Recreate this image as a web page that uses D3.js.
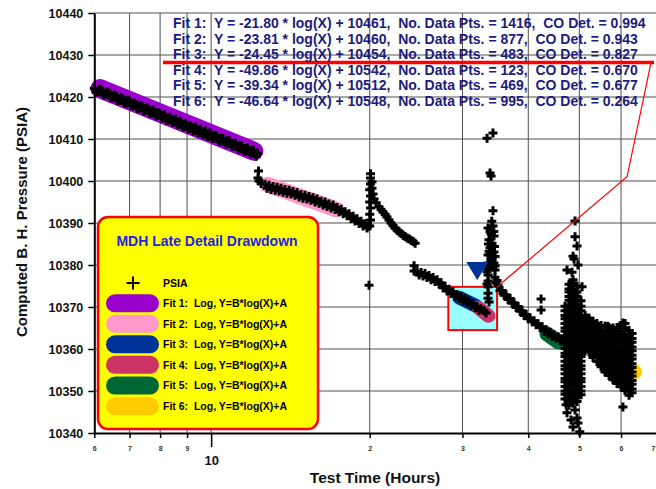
<!DOCTYPE html>
<html><head><meta charset="utf-8">
<script src="https://cdn.jsdelivr.net/npm/d3@7"></script>
<style>
html,body{margin:0;padding:0;background:#fff;}
svg{display:block;font-family:"Liberation Sans",Arial,Helvetica,sans-serif;font-weight:bold;}
</style></head><body>
<svg id="chart" width="656" height="489"></svg>
<script>
// ---------------- data ----------------
const yTicks = [10340,10350,10360,10370,10380,10390,10400,10410,10420,10430,10440];
const yGridValues = [10350,10360,10370,10380,10390,10400,10410,10420,10430,10440];
const xTicks = [6,7,8,9,10,20,30,40,50,60,70];
const xTickLabels = ["6","7","8","9","10","2","3","4","5","6","7"];
const xGridValues = [7,8,9,10,20,30,40,50,60];

const fitNames = ["Fit 1","Fit 2","Fit 3","Fit 4","Fit 5","Fit 6"];
const fitB = [-21.80,-23.81,-24.45,-49.86,-39.34,-46.64];
const fitA = [10461,10460,10454,10542,10512,10548];
const fitPts = [1416,877,483,123,469,995];
const fitCoDet = [0.994,0.943,0.827,0.670,0.677,0.264];
const fitStartT = [6.15,12.8,29.6,32.2,43.4,52.0];
const fitStartP = [10422.0,10399.1,10372.2,10369.8,10363.6,10364.0];
const fitEndT = [12.05,17.3,31.8,33.6,45.6,63.8];
const fitEndP = [10407.1,10393.2,10370.3,10367.9,10361.7,10354.5];
const fitColors = ["#9900cc","#ff99cc","#003399","#cc3366","#006633","#ffcc00"];
const fitWidths = [19,16,14,14,15,14];

const legendTitle = "MDH Late Detail Drawdown";
const seriesName = "PSIA";

// callout annotation (data coordinates)
const calloutBarT = [8.1,69.3];
const calloutBarP = 10428.2;
const calloutPathT = [68.4,61.6,34.9];
const calloutPathP = [10428.2,10401.0,10374.8];
const boxT = [28.2,34.9];
const boxP = [10364.5,10374.8];
const markerT = 32.0;
const markerP = [10380.7,10376.4];

// measured PSIA points [time (hr), pressure (psia)]
const segA = [[6.0,10422.0],[6.1,10421.4],[6.2,10421.5],[6.3,10420.7],[6.4,10420.9],[6.5,10420.0],[6.6,10420.1],[6.7,10419.3],[6.8,10419.5],[6.9,10418.6],[7.0,10418.9],[7.1,10418.0],[7.2,10418.2],[7.3,10417.4],[7.4,10417.6],[7.5,10416.8],[7.6,10417.1],[7.7,10416.3],[7.8,10416.5],[7.9,10415.7],[8.0,10415.9],[8.1,10415.6],[8.2,10415.0],[8.3,10415.1],[8.4,10414.5],[8.5,10414.6],[8.6,10414.0],[8.7,10414.1],[8.8,10413.4],[8.9,10413.6],[9.0,10413.0],[9.1,10413.1],[9.2,10412.5],[9.3,10412.6],[9.4,10412.0],[9.5,10412.2],[9.6,10411.5],[9.7,10411.7],[9.8,10411.1],[9.9,10411.2],[10.0,10410.6],[10.15,10410.7],[10.3,10410.0],[10.45,10410.1],[10.6,10409.4],[10.75,10409.5],[10.9,10408.8],[11.05,10408.9],[11.2,10408.2],[11.35,10408.3],[11.5,10407.6],[11.65,10407.7],[11.8,10407.0],[11.95,10407.1],[12.1,10406.5],[12.25,10406.6]];
const segA2 = [[6.05,10421.2],[6.15,10421.9],[6.25,10420.5],[6.35,10421.2],[6.45,10419.8],[6.55,10420.5],[6.65,10419.1],[6.75,10419.9],[6.85,10418.5],[6.95,10419.2],[7.05,10417.9],[7.15,10418.6],[7.25,10417.2],[7.35,10418.0],[7.45,10416.7],[7.55,10417.4],[7.65,10416.1],[7.75,10416.9],[7.85,10415.5],[7.95,10416.3],[8.05,10415.0],[8.15,10415.8],[8.25,10414.4],[8.35,10415.2],[8.45,10413.9],[8.55,10414.7],[8.65,10413.4],[8.75,10414.2],[8.85,10412.9],[8.95,10413.7],[9.05,10412.4],[9.15,10413.2],[9.25,10411.9],[9.35,10412.8],[9.45,10411.5],[9.55,10412.3],[9.65,10411.0],[9.75,10411.9],[9.85,10410.6],[9.95,10411.4],[10.075,10410.1],[10.225,10410.9],[10.375,10409.4],[10.525,10410.2],[10.675,10408.8],[10.825,10409.6],[10.975,10408.2],[11.125,10409.0],[11.275,10407.6],[11.425,10408.4],[11.575,10407.0],[11.725,10407.9],[11.875,10406.5],[12.025,10407.3],[12.175,10405.9]];
const segB1 = [[12.3,10402.4],[12.27,10400.7],[12.33,10400.0],[12.44,10399.4],[12.66,10399.2],[12.88,10399.0],[13.11,10398.7],[13.34,10398.5],[13.57,10398.3],[13.81,10398.0],[14.06,10397.8],[14.30,10397.5],[14.56,10397.2],[14.81,10396.8],[15.07,10396.6],[15.34,10396.3],[15.61,10396.0],[15.89,10395.7],[16.17,10395.2],[16.45,10395.0],[16.74,10394.5],[17.04,10394.3],[17.34,10393.7],[17.65,10393.3],[17.96,10392.7],[18.27,10392.2],[18.60,10391.6],[18.92,10391.0],[19.26,10390.4],[19.60,10389.8],[19.86,10389.3]];
const segB2 = [[12.77,10398.3],[12.99,10398.0],[13.23,10397.8],[13.46,10397.6],[13.69,10397.3],[13.93,10397.1],[14.18,10396.9],[14.43,10396.6],[14.69,10396.2],[14.94,10395.9],[15.20,10395.7],[15.47,10395.4],[15.75,10395.0],[16.03,10394.7],[16.31,10394.3],[16.59,10393.9],[16.89,10393.6],[17.19,10393.2],[17.49,10392.7],[17.81,10392.2],[18.12,10391.7],[18.43,10391.1],[18.76,10390.5],[19.09,10389.9],[19.43,10389.3],[19.77,10388.8]];
const spike1 = [[20.0,10389.3],[20.07,10390.7],[20.0,10392.1],[20.07,10393.6],[20.0,10395.0],[20.07,10396.4],[20.0,10397.9],[20.07,10399.3],[20.07,10400.7],[20.07,10401.7],[20.2,10399.8],[20.2,10398.3],[20.29,10396.9],[20.38,10395.7],[20.56,10394.8],[20.83,10393.8],[19.94,10375.2]];
const decay1 = [[21.02,10393.2],[21.2,10392.6],[21.4,10392.0],[21.57,10391.4],[21.76,10390.7],[21.95,10390.0],[22.14,10389.4],[22.34,10388.8],[22.54,10388.3],[22.74,10387.9],[22.94,10387.5],[23.14,10387.1],[23.35,10386.8],[23.55,10386.4],[23.76,10386.2],[23.97,10385.9],[24.18,10385.6],[24.39,10385.2]];
const segC1 = [[24.28,10379.8],[24.28,10378.6],[24.6,10378.4],[25.03,10378.2],[25.47,10378.0],[25.92,10377.5],[26.38,10377.0],[26.85,10376.5],[27.32,10375.8],[27.8,10374.9],[28.29,10374.2],[28.78,10373.7],[29.29,10373.0],[29.81,10372.5],[30.33,10372.0],[30.87,10371.5],[31.41,10370.8],[31.97,10370.1],[32.53,10369.6],[32.96,10369.1],[33.26,10368.6]];
const segC2 = [[24.82,10377.6],[25.25,10377.4],[25.69,10377.0],[26.15,10376.5],[26.61,10376.1],[27.09,10375.5],[27.56,10374.6],[28.04,10373.8],[28.54,10373.2],[29.03,10372.6],[29.55,10372.0],[30.07,10371.5],[30.60,10371.1],[31.14,10370.5],[31.69,10369.8],[32.25,10369.2]];
const spike2 = [[33.4,10410.2],[34.28,10411.4],[33.84,10401.9],[33.99,10401.2],[34.28,10392.9],[33.55,10388.8],[34.28,10389.3],[33.84,10387.9],[34.43,10386.9],[33.69,10386.0],[34.13,10385.2],[33.84,10384.1],[34.43,10383.1],[33.55,10382.4],[33.99,10381.4],[33.55,10380.5],[34.43,10380.5],[33.55,10379.1],[34.58,10378.8],[33.55,10377.6],[34.58,10377.1],[33.55,10376.2],[34.73,10375.7],[33.55,10374.8],[33.55,10373.3],[33.55,10372.1],[34.0,10387.4],[34.1,10384.6],[33.7,10383.3],[34.2,10381.9],[33.4,10378.4],[33.4,10375.5],[33.7,10371.2],[34.9,10376.3],[33.9,10388.3],[34.4,10388.0],[33.6,10385.0],[34.5,10384.4],[33.9,10382.8],[34.6,10382.0],[33.7,10379.8],[34.3,10379.5],[34.6,10379.8],[34.1,10390.4]];
const segD1 = [[35.05,10375.1],[35.67,10373.9],[36.30,10372.9],[36.94,10372.0],[37.59,10371.0],[38.26,10370.1],[38.93,10369.1],[39.62,10368.2],[40.32,10367.4],[41.03,10366.7],[41.75,10366.0],[42.49,10365.3],[43.24,10364.6],[44.0,10363.9],[44.78,10363.4],[45.57,10362.9],[46.37,10362.4],[42.3,10371.9],[42.3,10369.3]];
const segD2 = [[35.36,10373.9],[35.99,10372.8],[36.62,10371.8],[37.27,10370.9],[37.93,10369.9],[38.60,10369.0],[39.28,10368.0],[39.97,10367.2],[40.68,10366.5],[41.39,10365.8],[42.12,10365.1],[42.86,10364.3],[43.62,10363.6],[44.39,10363.0],[45.17,10362.6],[45.97,10362.1]];
// late-time scatter, listed column by column: [time, [pressures...]]
const cloudCols = [
 [46.97,[10370.2,10369.1,10368.0,10367.2,10366.1,10365.0,10364.2,10363.1,10362.0,10361.2,10360.1,10359.0,10358.2,10357.1,10356.0,10355.2,10354.1,10353.0,10352.2,10351.1,10350.0,10349.2,10348.1]],
 [47.80,[10375.4,10374.3,10373.6,10372.5,10371.6,10370.5,10369.6,10368.5,10367.6,10366.5,10365.6,10364.5,10363.6,10362.5,10361.6,10360.5,10359.6,10358.5,10357.6,10356.5,10355.6,10354.5,10353.6,10352.5,10351.6,10350.5,10349.6,10348.5,10347.6,10346.6]],
 [48.64,[10376.5,10375.2,10374.1,10373.0,10372.2,10371.1,10370.0,10369.2,10368.1,10367.0,10366.2,10365.1,10364.0,10363.2,10362.1,10361.0,10360.2,10359.1,10358.0,10357.2,10356.1,10355.0,10354.2,10353.1,10352.0,10351.2,10350.1,10349.0,10348.2,10347.1]],
 [49.50,[10375.0,10373.6,10372.5,10371.6,10370.5,10369.6,10368.5,10367.6,10366.5,10365.6,10364.5,10363.6,10362.5,10361.6,10360.5,10359.6,10358.5,10357.6,10356.5,10355.6,10354.5,10353.6,10352.5,10351.6,10350.5,10349.6,10348.5,10347.5]],
 [50.37,[10371.5,10370.2,10369.1,10368.0,10367.2,10366.1,10365.0,10364.2,10363.1,10362.0,10361.2,10360.1,10359.0,10358.2,10357.1,10356.0,10355.2,10354.1,10353.0,10352.2,10351.1,10350.0,10349.1]],
 [51.26,[10368.0,10366.6,10365.5,10364.6,10363.5,10362.6,10361.5,10360.6,10359.5]],
 [52.17,[10367.3,10366.1,10365.0,10364.2,10363.1,10362.0,10361.2,10360.1,10359.3]],
 [53.09,[10366.6,10365.5,10364.6,10363.5,10362.6,10361.5,10360.6,10359.5,10358.6,10358.0]],
 [54.02,[10366.1,10365.1,10364.0,10363.2,10362.1,10361.0,10360.2,10359.1,10358.0,10357.0]],
 [54.98,[10365.6,10364.5,10363.6,10362.5,10361.6,10360.5,10359.6,10358.5,10357.6,10356.5,10355.8]],
 [55.95,[10365.4,10364.1,10363.0,10362.2,10361.1,10360.0,10359.2,10358.1,10357.0,10356.2,10355.1,10354.5]],
 [56.94,[10365.1,10364.5,10363.6,10362.5,10361.6,10360.5,10359.6,10358.5,10357.6,10356.5,10355.6,10354.5,10353.7]],
 [57.94,[10365.0,10364.0,10363.2,10362.1,10361.0,10360.2,10359.1,10358.0,10357.2,10356.1,10355.0,10354.2,10353.1,10352.7]],
 [58.96,[10365.1,10364.5,10363.6,10362.5,10361.6,10360.5,10359.6,10358.5,10357.6,10356.5,10355.6,10354.5,10353.6,10352.5,10351.8]],
 [60.00,[10365.6,10364.2,10363.1,10362.0,10361.2,10360.1,10359.0,10358.2,10357.1,10356.0,10355.2,10354.1,10353.0,10352.2,10351.0]],
 [61.06,[10366.1,10365.0,10363.6,10362.5,10361.6,10360.5,10359.6,10358.5,10357.6,10356.5,10355.6,10354.5,10353.6,10352.5,10351.6,10350.5,10350.1]],
 [62.14,[10364.4,10363.1,10362.0,10361.2,10360.1,10359.0,10358.2,10357.1,10356.0,10355.2,10354.1,10353.0,10352.2,10351.1,10350.0,10349.0]],
 [62.96,[10363.7,10362.5,10361.6,10360.5,10359.6,10358.5,10357.6,10356.5,10355.6,10354.5,10353.6,10352.5,10351.6,10350.5,10349.6]]
];
const cloudSparse = [[49.07,10390.5],[49.07,10386.7],[49.5,10384.5],[48.64,10382.1],[48.86,10381.4],[49.7,10380.0],[47.38,10378.8],[48.43,10378.3],[50.6,10374.8],[48.43,10375.7],[56.6,10365.4],[60.5,10366.2],[51.7,10367.4],[51.9,10366.4],[60.5,10346.2],[47.38,10344.8],[49.07,10345.5],[49.5,10343.6],[48.64,10341.4],[50.1,10340.3],[49.7,10342.4],[48.22,10343.1],[47.2,10346.7]];

// ---------------- chart ----------------
const svg = d3.select("#chart");
const x = d3.scaleLog().domain([6,70]).range([94.3,656.3]);
const y = d3.scaleLinear().domain([10340,10440]).range([433,13]);

const points = [].concat(segA,segA2,segB1,segB2,spike1,decay1,segC1,segC2,spike2,segD1,segD2,
  cloudCols.flatMap(c => c[1].map(p => [c[0],p])), cloudSparse);

// grid
const grid = svg.append("g");
grid.selectAll("line.gy").data(yGridValues).join("line").attr("class","gy")
  .attr("x1",x(6)).attr("x2",x(70)).attr("y1",d=>y(d)).attr("y2",d=>y(d))
  .attr("stroke","#505050").attr("stroke-width",1);
grid.selectAll("line.gx").data(xGridValues).join("line").attr("class","gx")
  .attr("x1",d=>x(d)).attr("x2",d=>x(d)).attr("y1",y(10440)).attr("y2",y(10340))
  .attr("stroke","#505050").attr("stroke-width",1);

// cyan highlight box
svg.append("rect")
  .attr("x",x(boxT[0])).attr("y",y(boxP[1]))
  .attr("width",x(boxT[1])-x(boxT[0])).attr("height",y(boxP[0])-y(boxP[1]))
  .attr("fill","#99ffff").attr("stroke","#ff0000").attr("stroke-width",2);

// fit lines
svg.append("g").selectAll("line").data(fitNames).join("line")
  .attr("x1",(d,i)=>x(fitStartT[i])).attr("y1",(d,i)=>y(fitStartP[i]))
  .attr("x2",(d,i)=>x(fitEndT[i])).attr("y2",(d,i)=>y(fitEndP[i]))
  .attr("stroke",(d,i)=>fitColors[i]).attr("stroke-width",(d,i)=>fitWidths[i])
  .attr("stroke-linecap","round");

// data points
const plus = "M-4.5,0H4.5M0,-4.5V4.5";
svg.append("g").selectAll("path").data(points).join("path")
  .attr("d",plus).attr("transform",d=>`translate(${x(d[0])},${y(d[1])})`)
  .attr("stroke","#000").attr("stroke-width",3).attr("fill","none");

// axes
const yAxis = d3.axisLeft(y).tickValues(yTicks).tickSize(6).tickSizeOuter(0).tickPadding(5).tickFormat(d=>String(d));
const gy = svg.append("g").attr("transform",`translate(${x(6)},0)`).call(yAxis);
gy.select(".domain").attr("stroke","#000").attr("stroke-width",2);
gy.selectAll(".tick line").attr("stroke","#000").attr("stroke-width",1.5);
gy.selectAll(".tick text").attr("font-size",12.5).attr("font-weight","bold").attr("fill","#111")
  .attr("font-family","'Liberation Sans',Arial,sans-serif");

const xAxis = d3.axisBottom(x).tickValues(xTicks).tickSize(5).tickSizeOuter(0).tickFormat((d,i)=>xTickLabels[i]);
const gx = svg.append("g").attr("transform",`translate(0,${y(10340)})`).call(xAxis);
gx.select(".domain").attr("stroke","#000").attr("stroke-width",2);
gx.selectAll(".tick line").attr("stroke","#000").attr("stroke-width",1.5);
gx.selectAll(".tick text").attr("font-size",7).attr("font-weight","bold").attr("fill","#333")
  .attr("y",12.7).attr("dy","0.71em").attr("font-family","'Liberation Sans',Arial,sans-serif");
gx.selectAll(".tick").filter(d=>d===10).each(function(){
  const t = d3.select(this);
  t.select("line").attr("y2",14);
  t.select("text").attr("font-size",13).attr("fill","#111").attr("y",22.8);
});
gx.selectAll(".tick").filter(d=>d===70).select("text").attr("text-anchor","end").attr("dx",-1.5);

// axis titles
svg.append("text").attr("transform","translate(27,222) rotate(-90)")
  .attr("text-anchor","middle").attr("font-size",15).attr("fill","#111")
  .text("Computed B. H. Pressure (PSIA)");
svg.append("text").attr("x",375).attr("y",483)
  .attr("text-anchor","middle").attr("font-size",15.5).attr("fill","#111")
  .text("Test Time (Hours)");

// callout
svg.append("line").attr("x1",x(calloutBarT[0])).attr("x2",x(calloutBarT[1]))
  .attr("y1",y(calloutBarP)).attr("y2",y(calloutBarP))
  .attr("stroke","#ff0000").attr("stroke-width",3.5);
svg.append("path")
  .attr("d",d3.line()(calloutPathT.map((t,i)=>[x(t),y(calloutPathP[i])])))
  .attr("fill","none").attr("stroke","#ff0000").attr("stroke-width",1.2);

// inverted triangle marker
{
  const cx = x(markerT), yt = y(markerP[0]), yb = y(markerP[1]);
  svg.append("path").attr("d",`M${cx-11},${yt}L${cx+11},${yt}L${cx},${yb}Z`).attr("fill","#003399");
}

// fit equation text
svg.append("g").selectAll("text").data(fitNames).join("text")
  .attr("x",173).attr("y",(d,i)=>28 + i*15.5)
  .attr("xml:space","preserve").style("white-space","pre")
  .attr("font-size",14).attr("fill","#1c1c7c")
  .text((d,i)=>`${d}:  Y = ${fitB[i].toFixed(2)} * log(X) + ${fitA[i]},  No. Data Pts. = ${fitPts[i]},  CO Det. = ${fitCoDet[i].toFixed(3)}`);

// legend
const lg = svg.append("g");
lg.append("rect").attr("x",98).attr("y",217).attr("width",220).attr("height",212).attr("rx",10)
  .attr("fill","#ffff00").attr("stroke","#ff0000").attr("stroke-width",2.5);
lg.append("text").attr("x",207).attr("y",246).attr("text-anchor","middle")
  .attr("font-size",14).attr("fill","#1f1fe6").text(legendTitle);
lg.append("path").attr("d","M-6.5,0H6.5M0,-6.5V6.5").attr("transform","translate(133,283)")
  .attr("stroke","#000").attr("stroke-width",2).attr("fill","none");
lg.append("text").attr("x",163).attr("y",286.5).attr("font-size",10.5).attr("fill","#000").text(seriesName);
const rowsY = [303.3,323.8,344.3,364.8,385.6,406.3];
lg.selectAll("rect.sw").data(fitNames).join("rect").attr("class","sw")
  .attr("x",106).attr("y",(d,i)=>rowsY[i]-9).attr("width",53).attr("height",18).attr("rx",9)
  .attr("fill",(d,i)=>fitColors[i]);
lg.selectAll("text.lt").data(fitNames).join("text").attr("class","lt")
  .attr("x",163).attr("y",(d,i)=>rowsY[i]+3.8)
  .attr("xml:space","preserve").style("white-space","pre")
  .attr("font-size",10.5).attr("fill","#000")
  .text(d=>`${d}:  Log, Y=B*log(X)+A`);
</script>
</body></html>
